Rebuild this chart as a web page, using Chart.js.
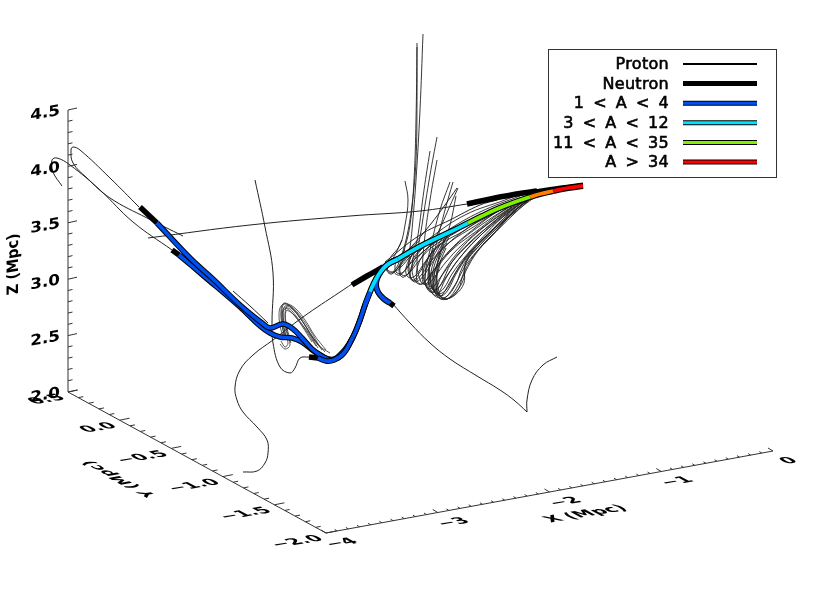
<!DOCTYPE html>
<html>
<head>
<meta charset="utf-8">
<title>Trajectories</title>
<script src="https://cdn.jsdelivr.net/npm/chart.js@4"></script>
<style>
    html, body { margin: 0; padding: 0; background: #fff; }
    canvas { display: block; }
</style>
</head>
<body>
<canvas id="chart" width="830" height="593"></canvas>
<script>
// axis values
const xTicks = [-4, -3, -2, -1, 0]
const yTicks = [0.5, 0, -0.5, -1, -1.5, -2]
const zTicks = [2, 2.5, 3, 3.5, 4, 4.5]
const xTickLabels = ['−4', '−3', '−2', '−1', '0']
const yTickLabels = ['0.5', '0.0', '−0.5', '−1.0', '−1.5', '−2.0']
const zTickLabels = ['2.0', '2.5', '3.0', '3.5', '4.0', '4.5']

// legend
const legendNames = ['Proton', 'Neutron', '1 < A < 4', '3 < A < 12', '11 < A < 35', 'A > 34']
const legendColors = ['#000000', '#000000', '#0050f0', '#00e0ff', '#80f000', '#ff0000']

// trajectories in its projected plane
const heavyRed = [[583,186],[568,188],[553,191]]
const heavyOrange = [[553,191],[540,194],[530,197]]
const heavyGreen = [[530,197],[515,202],[497,209],[482,216],[468,223]]
const heavyCyan = [[468,223],[450,232],[433,240],[417,248],[398,259]]
const branchCyan = [[398,259],[387,265],[379,274],[373,285],[370,292]]
const branchBlue = [[398,259],[388,264],[381,271],[376,283],[378,292],[384,299],[390,303]]
const trunkBlueUpper = [[370,292],[365,305],[360,320],[353,337],[343,352],[332,360],[322,356],[312,349],[302,338],[293,329],[283,324],[270,328],[262,323],[240,305],[213,279],[190,258],[157,223]]
const trunkBlueLower = [[370,292],[365,305],[360,320],[353,337],[345,351],[338,358],[328,359],[315,352],[302,342],[292,338],[280,337],[270,333],[260,326],[240,307],[205,277],[179,255]]
const trunkBlueShort = [[353,337],[344,353],[334,360],[326,361],[318,358]]

const neutronLong = [[467,204],[495,198],[523,193],[537,191]]
const neutronTop = [[528,192],[550,188.5],[565,186.5],[583,184]]
const neutronUpper = [[352,285],[367,276],[383,267]]
const neutronSide = [[390,303],[394,306]]
const neutronLeftA = [[140,207],[157,223]]
const neutronLeftB = [[172,250],[179,255]]
const neutronStub = [[309,357],[318,358]]

const protonPaths = [
    [[392,303],[410,323],[430,343],[450,359],[477,376],[500,390],[515,401],[527,412]],
    [[527,412],[527,400],[532,380],[543,365],[557,357]],
    [[139,207],[110,178],[80,150],[73,147],[71,150],[73,163],[87,178],[110,198],[147,218],[183,236]],
    [[172,250],[133,222],[100,190],[70,165],[57,158],[52,160],[53,172],[62,186]],
    [[148,238],[250,225],[350,216],[420,211],[467,204]],
    [[309,357],[300,358],[295,368],[290,373],[280,367],[273,343],[272,323],[273,273],[265,227],[255,180]],
    [[352,284],[340,292],[303,317],[273,340],[253,355],[240,370],[235,387],[237,400],[243,412],[257,427],[267,440],[268,453],[265,463],[257,471],[243,472]],
    [[233,291],[250,306],[268,323]],
    [[380,275],[395,260],[410,248],[430,225],[445,205],[457,188]],
    [[385,262],[420,235],[450,220],[480,205],[497,200]]
]

// long tails that drop into the teardrop loops and come back under the trunk
const loopPaths = [
    [[405,181],[408,200],[405,225],[400,245],[390,258],[386,268],[391,273],[398,268],[410,255],[430,238],[465,215],[505,200],[523,193]],
    [[417,43],[417,100],[416,160],[412,205],[406,240],[398,265],[394,272],[400,275],[408,266],[420,250],[445,232],[480,212],[520,196]],
    [[417,47],[416,120],[414,180],[410,225],[403,255],[399,270],[402,277],[408,274],[420,255],[445,235],[480,215],[520,198]],
    [[423,34],[420,110],[416,180],[412,230],[409,262],[411,278],[416,282],[424,275],[440,252],[465,230],[495,213],[525,197]],
    [[430,151],[424,190],[418,235],[412,268],[416,282],[422,284],[430,275],[450,250],[475,228],[500,210],[528,196]],
    [[437,137],[430,175],[422,225],[417,262],[421,282],[426,284],[434,272],[452,250],[478,230],[503,211],[529,196]],
    [[437,160],[430,200],[424,245],[423,275],[428,290],[434,292],[442,275],[458,252],[478,232],[505,212],[530,196]],
    [[450,182],[440,210],[430,250],[425,280],[431,292],[437,295],[446,278],[462,255],[482,234],[508,213],[532,195]],
    [[453,182],[445,210],[436,245],[428,275],[433,294],[440,297],[450,282],[465,258],[485,237],[510,215],[533,195]],
    [[458,188],[446,215],[432,250],[430,280],[437,296],[443,299],[453,288],[468,262],[490,238],[514,214],[535,195]],
    [[456,196],[450,225],[440,255],[433,283],[440,298],[447,299],[458,290],[464,272],[478,250],[497,230],[518,208],[537,194]],
    [[445,235],[437,268],[440,296],[445,299],[455,295],[464,283],[465,265],[480,245],[500,225],[520,206],[540,192]],
    [[441,260],[436,285],[441,297],[449,298],[462,278],[475,255],[495,232],[518,208],[538,194]],
    [[438,270],[433,287],[437,294],[446,290],[456,272],[472,250],[492,230],[515,208],[535,195]],
    [[432,272],[428,286],[433,292],[440,286],[452,262],[470,242],[490,225],[512,207]],
    [[402,240],[395,255],[387,270],[392,274],[402,262],[415,248]],
    [[414,250],[408,268],[413,280],[420,272],[432,252],[450,236]],
    [[535,197],[515,212],[495,230],[478,247],[466,262],[464,278],[456,292],[447,299],[440,296],[436,285],[438,268],[446,248]],
    [[533,197],[512,213],[490,233],[472,252],[462,268],[456,284],[446,297],[439,295],[434,283],[437,265],[447,243]],
    [[531,198],[508,215],[485,237],[468,256],[456,274],[448,290],[441,296],[435,292],[432,280],[437,258],[449,238]],
    [[529,198],[504,216],[480,240],[464,258],[452,274],[444,288],[437,293],[432,288],[431,272],[438,252],[450,232]],
    [[527,199],[500,218],[476,240],[458,260],[446,277],[438,288],[433,289],[429,282],[431,262],[441,243]],
    [[524,200],[496,220],[470,243],[452,262],[440,278],[432,288],[427,288],[425,276],[432,255],[444,236]],
    [[520,201],[490,222],[462,245],[446,262],[436,275],[428,284],[423,283],[424,268],[434,248]],
    [[515,203],[484,223],[458,243],[440,262],[430,275],[422,284],[417,281],[418,265],[428,248],[440,235]],
    [[505,206],[475,226],[450,242],[432,260],[422,274],[414,281],[410,277],[414,260],[425,245]],
    [[495,209],[465,230],[440,245],[425,262],[415,276],[408,277],[406,268],[414,252],[425,240]],
    [[485,214],[455,233],[432,247],[418,262],[408,274],[402,275],[400,268],[408,252],[420,240]],
    [[470,221],[445,236],[425,250],[410,264],[402,273],[396,272],[396,262],[405,250]],
    [[455,229],[430,243],[412,255],[400,268],[392,272],[387,268],[392,258]]
]

const smallLoopPaths = [
    [[330,353],[318,345],[308,330],[298,315],[290,306],[284,303],[281,310],[282,325],[285,335],[290,340]],
    [[325,352],[313,338],[303,322],[293,309],[286,304],[281,306],[279,315],[281,330],[284,338]],
    [[322,350],[310,333],[300,318],[291,308],[285,306],[283,315],[285,332],[288,343],[285,347],[281,341]],
    [[318,348],[308,332],[298,320],[290,311],[284,308],[282,320],[284,336]],
    [[316,346],[305,329],[296,316],[288,308],[283,312],[286,330],[290,345],[285,349],[280,344]],
    [[312,342],[302,326],[293,314],[286,311],[287,328],[291,340]],
    [[326,350],[315,336],[305,320],[296,309],[288,304],[283,305],[282,318],[286,338]],
    [[320,347],[310,330],[301,317],[292,307],[287,306],[285,318],[288,335],[291,343]]
]

const plotStyle = { tension: 0.4, pointRadius: 0, fill: false, showLine: true, borderCapStyle: 'butt', borderJoinStyle: 'round' }
const datasets = []

function addLine(points, color, width, tension) {
    datasets.push({
        ...plotStyle,
        data: points.map(p => ({ x: p[0], y: p[1] })),
        borderColor: color,
        borderWidth: width,
        tension: tension === undefined ? plotStyle.tension : tension,
        order: -datasets.length
    })
}

// map an axis value on to the projected plane
function along(v, v0, v1, a, b) {
    const f = (v - v0) / (v1 - v0)
    return [a[0] + (b[0] - a[0]) * f, a[1] + (b[1] - a[1]) * f]
}
const corner = [68, 392], yEnd = [326, 533], xEnd = [773, 451], zEnd = [68, 110]
const xAt = v => along(v, -4, 0, yEnd, xEnd)
const yAt = v => along(v, 0.5, -2, corner, yEnd)
const zAt = v => along(v, 2, 4.5, corner, zEnd)

function addAxis(at, from, to, steps, major, dx, dy) {
    addLine([at(from), at(to)], '#333', 1, 0)
    for (let i = 0; i <= steps; i++) {
        const p = at(from + (to - from) * i / steps)
        const k = i % major == 0 ? 1 : 0.5
        addLine([p, [p[0] + dx * k, p[1] + dy * k]], '#333', 1, 0)
    }
}
addAxis(xAt, -4, 0, 40, 10, -5, -3)
addAxis(yAt, 0.5, -2, 25, 5, 10, -2)
addAxis(zAt, 2, 4.5, 25, 5, 9, -2)

loopPaths.forEach(p => addLine(p, '#222', 0.9))
smallLoopPaths.forEach(p => addLine(p, '#333', 0.8))
protonPaths.forEach(p => addLine(p, '#222', 1))

addLine(neutronTop, '#000', 3)
;[neutronLong, neutronUpper, neutronSide, neutronLeftA, neutronLeftB, neutronStub].forEach(p => addLine(p, '#000', 5.5))

// each blue strand gets its own outline, so black shows between the strands
;[trunkBlueLower, trunkBlueUpper, trunkBlueShort].forEach(p => {
    addLine(p, '#000', 5.6)
    addLine(p, legendColors[2], 3.6)
})

const outlined = [branchBlue, branchCyan, heavyCyan, heavyGreen, heavyOrange, heavyRed]
outlined.forEach(p => addLine(p, '#000', 6))
addLine(branchBlue, legendColors[2], 3.8)
addLine(branchCyan, legendColors[3], 3.8)
addLine([[370,292],[365,305]], legendColors[2], 3.8)
addLine(heavyCyan, legendColors[3], 3.8)
addLine(heavyGreen, legendColors[4], 3.8)
addLine(heavyOrange, '#ff8000', 3.8)
addLine(heavyRed, legendColors[5], 3.8)

// text lying in the plane of an axis: u runs along the baseline, v runs up the glyph
function planeText(ctx, text, x, y, u, v, align) {
    ctx.save()
    ctx.transform(u[0], u[1], -v[0], -v[1], x, y)
    ctx.textAlign = align
    ctx.textBaseline = 'middle'
    ctx.fillText(text, 0, 0)
    ctx.restore()
}

const textPlugin = {
    id: 'axisText',
    afterDraw(chart) {
        const ctx = chart.ctx
        ctx.save()
        ctx.fillStyle = '#000'
        ctx.font = 'bold 15px "DejaVu Sans"'

        const wallU = [1.12, -0.2], flatU = [1.2, -0.2], floorV = [-0.95, -0.52], wallV = [0, -1]
        zTicks.forEach((v, i) => {
            const p = zAt(v)
            planeText(ctx, zTickLabels[i], p[0] - 8, p[1] + 1, wallU, wallV, 'right')
        })
        yTicks.forEach((v, i) => {
            const p = yAt(v)
            planeText(ctx, yTickLabels[i], p[0] - 5, p[1] + 5, flatU, floorV, 'right')
        })
        xTicks.forEach((v, i) => {
            const p = xAt(v)
            planeText(ctx, xTickLabels[i], p[0] + 16, p[1] + 10, flatU, floorV, 'center')
        })

        planeText(ctx, 'Z (Mpc)', 14, 264, [0, -0.95], [-1.05, 0.18], 'center')
        planeText(ctx, 'X (Mpc)', 586, 514, flatU, floorV, 'center')
        planeText(ctx, 'Y (Mpc)', 120, 479, [-1.05, -0.55], [-1, 0.18], 'center')

        // legend
        ctx.strokeStyle = '#333'
        ctx.lineWidth = 1
        ctx.strokeRect(548.5, 49.5, 228, 128)
        ctx.font = '16px "DejaVu Sans"'
        ctx.wordSpacing = '3.5px'
        ctx.letterSpacing = '0.3px'
        ctx.textAlign = 'right'
        ctx.textBaseline = 'middle'
        legendNames.forEach((name, i) => {
            const y = 64 + i * 19.6
            ctx.fillStyle = '#000'
            ctx.fillText(name, 669, y + 1)
            ctx.strokeStyle = '#000'
            ctx.lineWidth = 0.6
            ctx.strokeText(name, 669, y + 1)
            ctx.lineWidth = i == 0 ? 2 : 5
            ctx.beginPath()
            ctx.moveTo(683, y)
            ctx.lineTo(757, y)
            ctx.stroke()
            if (i > 1) {
                ctx.strokeStyle = legendColors[i]
                ctx.lineWidth = 3
                ctx.beginPath()
                ctx.moveTo(683, y)
                ctx.lineTo(757, y)
                ctx.stroke()
            }
        })
        ctx.restore()
    }
}

new Chart(document.getElementById('chart'), {
    type: 'scatter',
    data: { datasets },
    plugins: [textPlugin],
    options: {
        responsive: false,
        animation: false,
        layout: { padding: 0 },
        plugins: { legend: { display: false }, tooltip: { enabled: false } },
        scales: {
            x: { type: 'linear', min: 0, max: 830, display: false },
            y: { type: 'linear', min: 0, max: 593, reverse: true, display: false }
        }
    }
})
</script>
</body>
</html>
